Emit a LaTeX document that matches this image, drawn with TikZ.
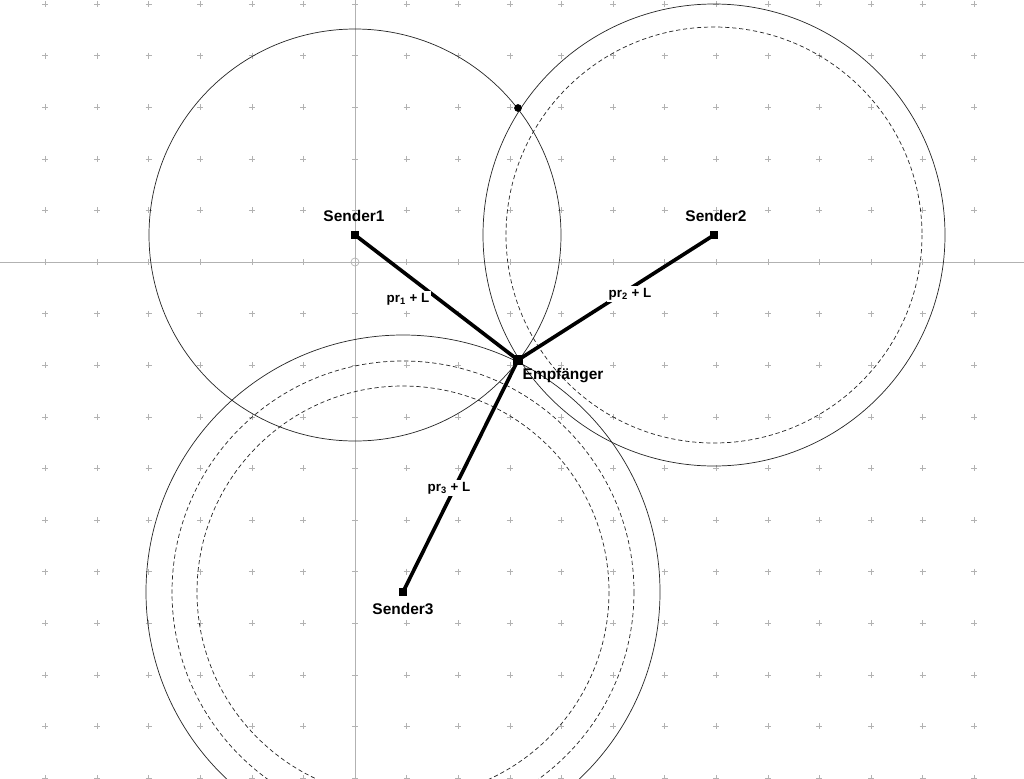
\documentclass[tikz,border=0pt]{standalone}
\usepackage{fontspec}
\setmainfont{Liberation Sans}
\begin{document}
\begin{tikzpicture}[x=0.025cm,y=-0.025cm,
  circ/.style={draw=black!85,line width=0.5pt},
  dcirc/.style={draw=black!85,line width=0.5pt,dash pattern=on 3pt off 2pt},
  ray/.style={line width=2.6pt},
  lbl/.style={font=\bfseries\fontsize{11}{13}\selectfont,inner sep=1pt},
  plbl/.style={font=\bfseries\fontsize{9.5}{10}\selectfont,fill=white,inner sep=1.5pt},
  sq/.style={fill=black,minimum size=5.5pt,inner sep=0pt}]
\useasboundingbox (0,0) rectangle (1024,778);
\fill[white] (0,0) rectangle (1024,778);
% grid
\foreach \i in {-6,...,12}{\foreach \j in {-5,...,10}{
  \draw[black!30,line width=0.4pt] ({355+51.6*\i-3},{262+51.6*\j}) -- ++(6,0) ({355+51.6*\i},{262+51.6*\j-3}) -- ++(0,6);}}
\draw[black!30,line width=0.5pt] (0,262) -- (1024,262) (355,0) -- (355,778);
\draw[black!30,line width=0.5pt] (355,262) circle (4);
% circles
\draw[circ] (355,235) circle (206);
\draw[circ] (714,235) circle (231);
\draw[dcirc] (714,235) circle (208);
\draw[circ] (403,592) circle (257);
\draw[dcirc] (403,592) circle (231);
\draw[dcirc] (403,592) circle (206);
% nodes
\node[sq] (s1) at (355,235) {};
\node[sq] (s2) at (714,235) {};
\node[sq] (s3) at (403,592) {};
\node[sq,minimum size=7pt] (e) at (518,360) {};
\node[circle,fill=black,minimum size=5.5pt,inner sep=0pt] (p) at (518,108) {};
\draw[ray] (s1.center) -- (e.center);
\draw[ray] (s2.center) -- (e.center);
\draw[ray] (s3.center) -- (e.center);
\node[plbl] at (408,299) {pr\textsubscript{1} + L};
\node[plbl] at (630,294) {pr\textsubscript{2} + L};
\node[plbl] at (449,488) {pr\textsubscript{3} + L};
\node[lbl] at (354,216) {Sender1};
\node[lbl] at (716,216) {Sender2};
\node[lbl] at (403,609) {Sender3};
\node[lbl,anchor=west] at (521,376) {Empfänger};
\end{tikzpicture}
\end{document}
